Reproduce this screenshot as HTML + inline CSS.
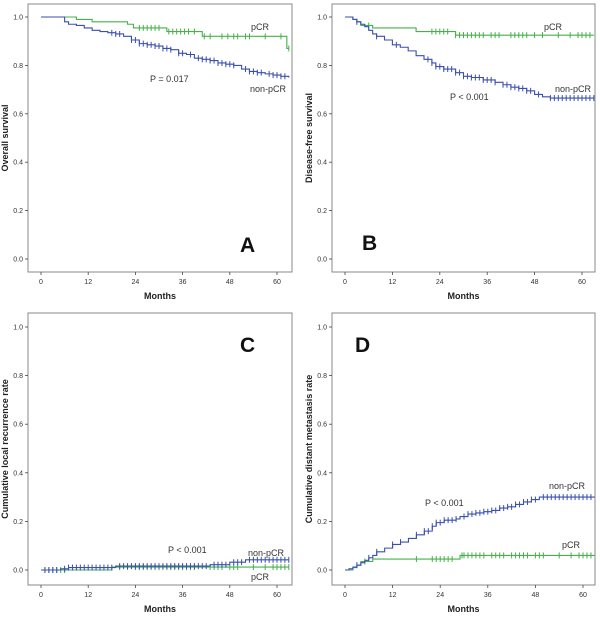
<!DOCTYPE html>
<html><head><meta charset="utf-8"><style>
html,body{margin:0;padding:0;background:#fff;}
svg text{font-family:"Liberation Sans",Arial,sans-serif;}
</style></head><body>
<svg id="chart" width="600" height="619" viewBox="0 0 600 619" xmlns="http://www.w3.org/2000/svg"></svg>
<script>
// ---- data ----
const xTicks = [0, 12, 24, 36, 48, 60];
const yTickLabels = ["0.0", "0.2", "0.4", "0.6", "0.8", "1.0"];
const yTickValues = [0, 0.2, 0.4, 0.6, 0.8, 1.0];

const aPcrT = [0, 9, 13, 22, 23.5, 32, 41, 62.5, 63];
const aPcrV = [1.0, 0.99, 0.98, 0.97, 0.955, 0.94, 0.92, 0.87, 0.87];
const aPcrCens = [25, 26, 27, 28, 29, 30, 32.5, 33.5, 34.5, 35.5, 36.5, 37.5, 39, 41.5, 43, 46, 47.5, 49, 50, 52, 53, 57, 61, 63];
const aNonT = [0, 6, 7, 9, 11, 13, 15, 17, 19, 21, 23, 25, 27, 29, 31, 33, 35, 37, 39, 41, 43, 45, 47, 49, 51, 53, 55, 57, 59, 61, 63];
const aNonV = [1.0, 0.98, 0.97, 0.965, 0.955, 0.945, 0.94, 0.935, 0.93, 0.92, 0.905, 0.89, 0.885, 0.88, 0.87, 0.865, 0.85, 0.845, 0.83, 0.825, 0.82, 0.81, 0.805, 0.8, 0.785, 0.775, 0.77, 0.765, 0.76, 0.755, 0.75];
const aNonCens = [18, 19, 20, 23, 24, 25, 26, 27, 28, 29, 30, 31, 32, 33, 35, 36, 38, 40, 41, 42, 43, 44, 45, 46, 47, 48, 49, 52, 53, 54, 55, 56, 58, 59, 60, 61, 62];

const bPcrT = [0, 2, 3, 4, 7, 18, 28, 63];
const bPcrV = [1.0, 0.99, 0.98, 0.965, 0.955, 0.94, 0.925, 0.925];
const bPcrCens = [6, 22, 23, 24, 25, 26, 28, 29, 30, 31, 32, 33, 34, 35, 37, 38, 39, 42, 43, 44, 45, 46, 48, 50, 54, 57, 59, 60, 61, 62];
const bNonT = [0, 2, 3, 4, 5, 6, 7, 8, 10, 12, 14, 16, 18, 20, 22, 23, 25, 28, 30, 32, 35, 38, 40, 42, 44, 46, 48, 50, 52, 63];
const bNonV = [1.0, 0.99, 0.98, 0.97, 0.96, 0.945, 0.93, 0.92, 0.905, 0.885, 0.875, 0.86, 0.84, 0.825, 0.81, 0.795, 0.785, 0.77, 0.755, 0.75, 0.74, 0.73, 0.72, 0.71, 0.705, 0.695, 0.68, 0.67, 0.665, 0.665];
const bNonCens = [3, 8, 13, 21, 22, 23, 24, 25, 26, 27, 28, 29, 30, 31, 32, 33, 34, 35, 36, 37, 38, 40, 41, 42, 43, 44, 45, 46, 47, 49, 52, 53, 54, 55, 56, 57, 58, 59, 60, 61, 62, 63];

const cPcrT = [0, 18, 63];
const cPcrV = [0, 0.012, 0.012];
const cPcrCens = [1, 2, 3, 4, 5, 6, 20, 22, 24, 25, 26, 27, 28, 29, 30, 31, 32, 33, 34, 35, 36, 37, 38, 39, 43, 44, 45, 46, 48, 49, 50, 54, 57, 59, 60, 61, 62, 63];
const cNonT = [0, 5, 7, 19, 43, 48, 52, 63];
const cNonV = [0, 0.005, 0.01, 0.016, 0.022, 0.032, 0.042, 0.042];
const cNonCens = [1, 2, 3, 4, 6, 7, 8, 9, 10, 11, 12, 13, 14, 15, 16, 17, 18, 20, 21, 22, 23, 24, 25, 26, 27, 28, 29, 30, 31, 32, 33, 34, 35, 36, 37, 38, 39, 40, 41, 42, 44, 45, 46, 47, 49, 50, 51, 53, 54, 55, 56, 57, 58, 59, 60, 61, 62, 63];

const dPcrT = [0, 2, 3, 4, 7, 29, 63];
const dPcrV = [0, 0.01, 0.02, 0.035, 0.045, 0.06, 0.06];
const dPcrCens = [5, 18, 22, 23, 24, 25, 26, 27, 29.5, 30, 31, 32, 33, 34, 35, 37, 38, 39, 40, 42, 43, 44, 45, 46, 48, 49, 50, 54, 57, 59, 60, 61, 62];
const dNonT = [0, 1, 2, 3, 4, 5, 6, 7, 8, 10, 12, 14, 16, 18, 20, 22, 23, 25, 28, 29, 31, 33, 35, 37, 39, 41, 43, 45, 47, 49, 63];
const dNonV = [0, 0.005, 0.012, 0.02, 0.03, 0.04, 0.05, 0.06, 0.075, 0.09, 0.105, 0.115, 0.13, 0.145, 0.16, 0.18, 0.195, 0.205, 0.21, 0.22, 0.23, 0.235, 0.24, 0.245, 0.255, 0.26, 0.27, 0.28, 0.29, 0.3, 0.3];
const dNonCens = [3, 6, 8, 12, 14, 18, 20, 21, 22, 23, 24, 25, 26, 27, 28, 30, 31, 32, 33, 34, 35, 36, 37, 38, 39, 40, 41, 42, 43, 44, 45, 46, 47, 48, 50, 51, 52, 53, 54, 55, 56, 57, 58, 59, 60, 61, 62];

const GREEN = "#46b04a", BLUE = "#3a4fb0";
const svg = document.getElementById('chart');
const NS = "http://www.w3.org/2000/svg";
function mk(tag, attrs, parent){ const e=document.createElementNS(NS,tag); for(const k in attrs) e.setAttribute(k,attrs[k]); (parent||svg).appendChild(e); return e; }

const panels = [
 {id:'a', L:28, T:4, R:292, B:272, x0:41, x60:277, y1:17, y0:259, ylab:'Overall survival',
  series:[[aPcrT,aPcrV,aPcrCens,GREEN,'pcr'],[aNonT,aNonV,aNonCens,BLUE,'non-pcr']],
  texts:[['pCR',251,30,9,'pcr-label'],['non-pCR',250,92,9,'non-pcr-label'],['P = 0.017',150,82,9,'p-value']], letter:['A',240,252]},
 {id:'b', L:332, T:4, R:595, B:272, x0:345, x60:582, y1:17, y0:259, ylab:'Disease-free survival',
  series:[[bPcrT,bPcrV,bPcrCens,GREEN,'pcr'],[bNonT,bNonV,bNonCens,BLUE,'non-pcr']],
  texts:[['pCR',544,30,9,'pcr-label'],['non-pCR',555,92,9,'non-pcr-label'],['P < 0.001',450,100,9,'p-value']], letter:['B',362,250]},
 {id:'c', L:28, T:313, R:292, B:585, x0:41, x60:277, y1:327, y0:570, ylab:'Cumulative local recurrence rate',
  series:[[cPcrT,cPcrV,cPcrCens,GREEN,'pcr'],[cNonT,cNonV,cNonCens,BLUE,'non-pcr']],
  texts:[['pCR',251,580,9,'pcr-label'],['non-pCR',248,556,9,'non-pcr-label'],['P < 0.001',168,553,9,'p-value']], letter:['C',240,352]},
 {id:'d', L:332, T:313, R:595, B:585, x0:345, x60:583, y1:327, y0:570, ylab:'Cumulative distant metastasis rate',
  series:[[dPcrT,dPcrV,dPcrCens,GREEN,'pcr'],[dNonT,dNonV,dNonCens,BLUE,'non-pcr']],
  texts:[['pCR',562,548,9,'pcr-label'],['non-pCR',549,489,9,'non-pcr-label'],['P < 0.001',425,506,9,'p-value']], letter:['D',355,352]},
];

panels.forEach(p=>{
  const g = mk('g',{});
  
  
  const sx = t => p.x0 + (p.x60-p.x0)*t/60;
  const sy = v => p.y0 + (p.y1-p.y0)*v;
  const fr = mk('rect',{x:p.L,y:p.T,width:p.R-p.L,height:p.B-p.T,fill:'none',stroke:'#888','stroke-width':1},g);
  
  
  yTickValues.forEach((v,i)=>{
    mk('line',{x1:p.L-3,x2:p.L,y1:sy(v),y2:sy(v),stroke:'#444','stroke-width':0.8},g);
    const t=mk('text',{x:p.L-5,y:sy(v)+2.5,'font-size':7,'text-anchor':'end',fill:'#333'},g);
    t.textContent=yTickLabels[i];
    
    
  });
  xTicks.forEach(v=>{
    mk('line',{x1:sx(v),x2:sx(v),y1:p.B,y2:p.B+3,stroke:'#444','stroke-width':0.8},g);
    const t=mk('text',{x:sx(v),y:p.B+12,'font-size':7,'text-anchor':'middle',fill:'#333'},g);
    t.textContent=v;
    
    
  });
  const xl=mk('text',{x:(p.L+p.R)/2,y:p.B+27,'font-size':9,'font-weight':'bold','text-anchor':'middle',fill:'#222'},g);
  xl.textContent='Months';
  
  
  const cy=(p.T+p.B)/2;
  const yl=mk('text',{x:p.L-20,y:cy,'font-size':9,'font-weight':'bold','text-anchor':'middle',fill:'#222',transform:`rotate(-90 ${p.L-20} ${cy})`},g);
  yl.textContent=p.ylab;
  
  
  p.series.forEach(([T,V,C,col,nm])=>{
    let d=`M${sx(T[0])},${sy(V[0])}`;
    for(let i=1;i<T.length;i++){ d+=` H${sx(T[i])} V${sy(V[i])}`; }
    const path=mk('path',{d,fill:'none',stroke:col,'stroke-width':1.1},g);
    
    
    C.forEach(c=>{
      let v=V[0]; for(let i=0;i<T.length;i++){ if(T[i]<=c) v=V[i]; }
      const m=mk('line',{x1:sx(c),x2:sx(c),y1:sy(v)-3,y2:sy(v)+3,stroke:col,'stroke-width':1},g);
      
      
    });
  });
  p.texts.forEach(([s,x,y,fs,nm])=>{
    const t=mk('text',{x,y,'font-size':fs,fill:'#333'},g);
    t.textContent=s;
    
    
  });
  const L=mk('text',{x:p.letter[1],y:p.letter[2],'font-size':21,'font-weight':'bold',fill:'#111'},g);
  L.textContent=p.letter[0];
  
  
});
</script>
</body></html>
